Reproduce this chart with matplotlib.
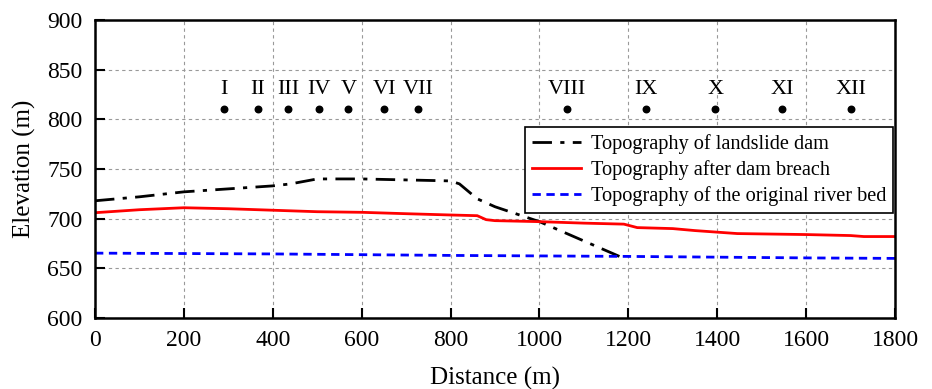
import matplotlib
matplotlib.use("Agg")
import matplotlib.pyplot as plt

plt.rcParams["font.family"] = ["Liberation Serif", "DejaVu Serif"]
plt.rcParams["mathtext.fontset"] = "stix"

# landslide dam profile
dam_x = [0, 100, 200, 300, 400, 440, 500, 600, 700, 800, 820, 860, 900, 1000, 1180]
dam_y = [718, 722, 727, 730, 733, 735, 740, 740, 739, 738, 735, 720, 712, 697, 662]

# after breach
breach_x = [0, 100, 200, 300, 400, 500, 600, 700, 800, 860, 880, 900, 1000, 1100, 1190,
            1220, 1300, 1350, 1445, 1600, 1700, 1730, 1800]
breach_y = [706, 709, 711, 710, 708.5, 707, 706.4, 705, 703.7, 703, 699, 698, 697, 695.5, 694.5,
            691, 690, 688, 685, 684, 683, 682, 682]

# original river bed
river_x = [0, 400, 800, 1200, 1600, 1800]
river_y = [665.3, 664.5, 663, 662, 660.5, 660]

# cross-section markers
sec_labels = ["I", "II", "III", "IV", "V", "VI", "VII", "VIII", "IX", "X", "XI", "XII"]
sec_x = [290, 366, 435, 503, 570, 651, 727, 1061, 1239, 1396, 1546, 1701]
sec_y = 810

fig = plt.figure(figsize=(9.32, 3.89), dpi=100)
ax = fig.add_axes([95 / 932, 1 - 318 / 389, 800 / 932, 298 / 389])

ax.plot(dam_x, dam_y, color="black", linestyle=(0, (7, 3, 1.5, 3)), lw=2,
        label="Topography of landslide dam")
ax.plot(breach_x, breach_y, color="red", lw=2, label="Topography after dam breach")
ax.plot(river_x, river_y, color="blue", linestyle=(0, (3, 2)), lw=2,
        label="Topography of the original river bed")

ax.scatter(sec_x, [sec_y] * len(sec_x), s=22, color="black", zorder=3)
for lab, xx in zip(sec_labels, sec_x):
    ax.text(xx, sec_y + 10, lab, ha="center", va="bottom", fontsize=16)

ax.set_xlim(0, 1800)
ax.set_ylim(600, 900)
ax.set_xticks(range(0, 1801, 200))
ax.set_yticks(range(600, 901, 50))
ax.grid(True, color="#999999", linestyle=(0, (3, 3)), lw=0.8)
ax.tick_params(direction="in", length=7, width=1.5, labelsize=17, top=False, right=False)
ax.tick_params(axis="x", pad=9)
ax.tick_params(axis="y", pad=9)
for sp in ax.spines.values():
    sp.set_linewidth(1.8)

ax.set_xlabel("Distance (m)", fontsize=18, labelpad=11)
ax.set_ylabel("Elevation (m)", fontsize=18, labelpad=8)

leg = ax.legend(loc="upper right", bbox_to_anchor=(0.998, 0.64), fontsize=14.6,
                frameon=True, fancybox=False, edgecolor="black", framealpha=1,
                handlelength=2.4, handletextpad=0.5, borderpad=0.35, labelspacing=0.3,
                borderaxespad=0)
leg.get_frame().set_linewidth(1.2)

fig.savefig("out.png", dpi=100)
